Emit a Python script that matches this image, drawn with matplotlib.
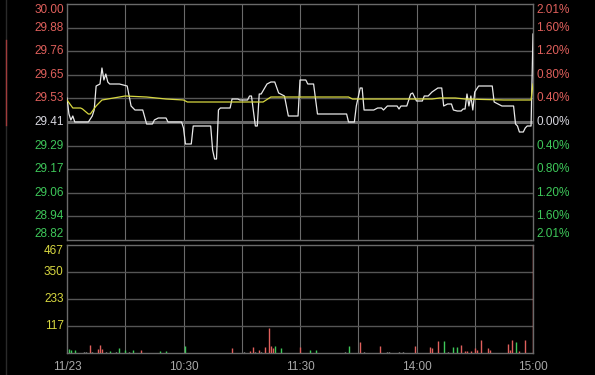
import matplotlib
matplotlib.use("Agg")
import matplotlib.pyplot as plt
from matplotlib.lines import Line2D
from matplotlib.transforms import blended_transform_factory

# minutes from 9:30 (0) to 15:00 (240), lunch break collapsed at 120
prev_close = 29.41
price_top = 30.00
vol_max = 467

price_min = [0, 1, 2, 3, 4, 11, 13, 14, 15, 17, 18, 19, 20, 21, 22, 27, 31, 33, 35, 39,
             41, 44, 45, 47, 51, 52, 59, 60, 61, 64, 65, 74, 75, 76, 77, 78, 79, 84, 85, 88,
             89, 93, 94, 95, 97, 98, 99, 100, 103, 105, 107, 109, 112, 114, 119, 120, 123, 124, 127, 129,
             144, 145, 148, 149, 151, 152, 153, 158, 160, 162, 163, 165, 170, 171, 172, 175, 177, 178, 180, 183,
             184, 186, 188, 191, 193, 194, 196, 198, 199, 201, 203, 204, 205, 206, 207, 208, 209, 210, 212, 219,
             220, 224, 230, 231, 232, 233, 235, 236, 237, 239, 240]
price_val = [29.53, 29.45, 29.42, 29.44, 29.41, 29.41, 29.44, 29.47, 29.59, 29.60, 29.68, 29.62, 29.65, 29.61, 29.60, 29.60, 29.59, 29.49, 29.47, 29.47,
             29.40, 29.40, 29.42, 29.43, 29.43, 29.41, 29.41, 29.38, 29.30, 29.30, 29.39, 29.39, 29.27, 29.225, 29.225, 29.47, 29.48, 29.48, 29.525, 29.525,
             29.52, 29.52, 29.54, 29.54, 29.39, 29.39, 29.55, 29.55, 29.60, 29.61, 29.61, 29.555, 29.54, 29.44, 29.44, 29.62, 29.62, 29.60, 29.60, 29.45,
             29.45, 29.41, 29.41, 29.49, 29.58, 29.58, 29.47, 29.47, 29.48, 29.48, 29.47, 29.49, 29.49, 29.475, 29.49, 29.49, 29.55, 29.555, 29.515, 29.515,
             29.54, 29.54, 29.56, 29.58, 29.58, 29.49, 29.50, 29.50, 29.47, 29.465, 29.465, 29.475, 29.475, 29.55, 29.49, 29.54, 29.47, 29.56, 29.59, 29.59,
             29.51, 29.49, 29.49, 29.40, 29.39, 29.36, 29.36, 29.38, 29.39, 29.39, 29.85]

avg_min = [0, 3, 7, 8, 11, 12, 15, 18, 24, 30, 41, 51, 60, 62, 101, 105, 145, 147, 165, 188, 192, 200, 205, 225, 239, 240]
avg_val = [29.52, 29.48, 29.48, 29.475, 29.45, 29.45, 29.49, 29.52, 29.53, 29.54, 29.535, 29.525, 29.52, 29.51, 29.51, 29.535,
           29.535, 29.525, 29.525, 29.525, 29.53, 29.53, 29.525, 29.52, 29.52, 29.60]

vol_min = [1, 2, 4, 9, 10, 12, 13, 16, 17, 18, 20, 22, 25, 27, 30, 32, 34, 38, 48, 51,
           61, 85, 91, 94, 96, 97, 99, 100, 102, 104, 105, 106, 107, 110, 120, 125, 128, 143, 145, 151,
           153, 161, 165, 166, 171, 173, 179, 187, 188, 191, 194, 196, 199, 201, 203, 205, 206, 208, 210, 211,
           213, 217, 218, 227, 228, 229, 231, 233, 236, 240]
vol_val = [19, 14, 12, 5, 5, 36, 5, 19, 36, 17, 4, 7, 4, 20, 14, 4, 14, 14, 10, 10,
           29, 22, 4, 10, 24, 4, 14, 4, 24, 108, 32, 22, 29, 20, 24, 11, 11, 4, 29, 46,
           4, 29, 4, 4, 4, 4, 29, 24, 20, 50, 50, 4, 24, 24, 36, 10, 10, 10, 20, 11,
           58, 20, 11, 39, 11, 58, 46, 10, 55, 467]
vol_dir = list("gggwwrwrrrwgwggwgrgg"
               "grwrrwrwrrrrggrggwgr"
               "wrwwwwrrrrgwggrrrrrr"
               "rrrrrrgrrr")

price_labels = ["30.00", "29.88", "29.76", "29.65", "29.53", "29.41",
                "29.29", "29.17", "29.06", "28.94", "28.82"]
pct_labels = ["2.01%", "1.60%", "1.20%", "0.80%", "0.40%", "0.00%",
              "0.40%", "0.80%", "1.20%", "1.60%", "2.01%"]
vol_labels = ["467", "350", "233", "117"]
time_ticks = [0, 60, 120, 180, 240]
time_labels = ["11/23", "10:30", "11:30", "14:00", "15:00"]

RED = "#e0605c"
GREEN = "#3ec85a"
WHITE = "#d8d8e0"
YELLOW = "#d8d840"
GRID = "#555555"
VGRID = "#6a6a6a"
bar_colors = {"r": "#e0605c", "g": "#3ec85a", "w": "#b0b0b0"}

plt.rcParams["font.family"] = ["Liberation Sans", "DejaVu Sans"]
fig = plt.figure(figsize=(5.95, 3.75), dpi=100, facecolor="black")
ax = fig.add_axes([67 / 595, 1 - 240 / 375, 466 / 595, 236 / 375], facecolor="black")
axv = fig.add_axes([67 / 595, 1 - 353 / 375, 466 / 595, 108 / 375], facecolor="black")

step = (price_top - prev_close) / 5
levels = [price_top - step * k for k in range(11)]

for a in (ax, axv):
    a.set_xlim(0, 240)
    a.set_xticks([])
    a.set_yticks([])
    for s in a.spines.values():
        s.set_color(VGRID)
        s.set_linewidth(1)
    for m in range(30, 240, 30):
        a.axvline(m, color=VGRID, lw=0.8, zorder=1)

ax.set_ylim(levels[-1], levels[0])
for lv in levels[1:-1]:
    ax.axhline(lv, color=GRID, lw=1, zorder=1)
ax.axhline(prev_close, color="#6a6a6a", lw=2.2, zorder=1)

ax.plot(price_min, price_val, color="#e8e8e8", lw=0.9, zorder=3)
ax.plot(avg_min, avg_val, color=YELLOW, lw=0.9, zorder=4)

tr = blended_transform_factory(ax.transAxes, ax.transData)
for i, lv in enumerate(levels):
    col = RED if i < 5 else (WHITE if i == 5 else GREEN)
    va = "top" if i == 0 else ("bottom" if i == 10 else "center")
    ax.text(-0.007, lv, price_labels[i], color=col, fontsize=8.5, ha="right", va=va, transform=tr)
    ax.text(1.007, lv, pct_labels[i], color=col, fontsize=8.5, ha="left", va=va, transform=tr)

axv.set_ylim(0, vol_max)
for k in range(1, 4):
    axv.axhline(vol_max * k / 4, color=GRID, lw=1, zorder=1)
axv.vlines(vol_min, 0, vol_val, colors=[bar_colors[c] for c in vol_dir], lw=1, zorder=3)
trv = blended_transform_factory(axv.transAxes, axv.transData)
for k, lab in enumerate(vol_labels):
    v = vol_max * (4 - k) / 4
    axv.text(-0.007, v, lab, color=YELLOW, fontsize=8.5, ha="right",
             va="top" if k == 0 else "center", transform=trv)

for t, lab in zip(time_ticks, time_labels):
    axv.text(t, -0.075, lab, color="#a8a8a8", fontsize=8.5, ha="center", va="top",
             transform=blended_transform_factory(axv.transData, axv.transAxes))

# thin marker line at the far left
fig.add_artist(Line2D([5.5 / 595, 5.5 / 595], [0, 1], color="#2a2a2a", lw=1))
fig.add_artist(Line2D([5.5 / 595, 5.5 / 595], [1 - 125 / 375, 1 - 40 / 375], color="#a03c3c", lw=1))

fig.savefig("out.png", dpi=100, facecolor="black")
